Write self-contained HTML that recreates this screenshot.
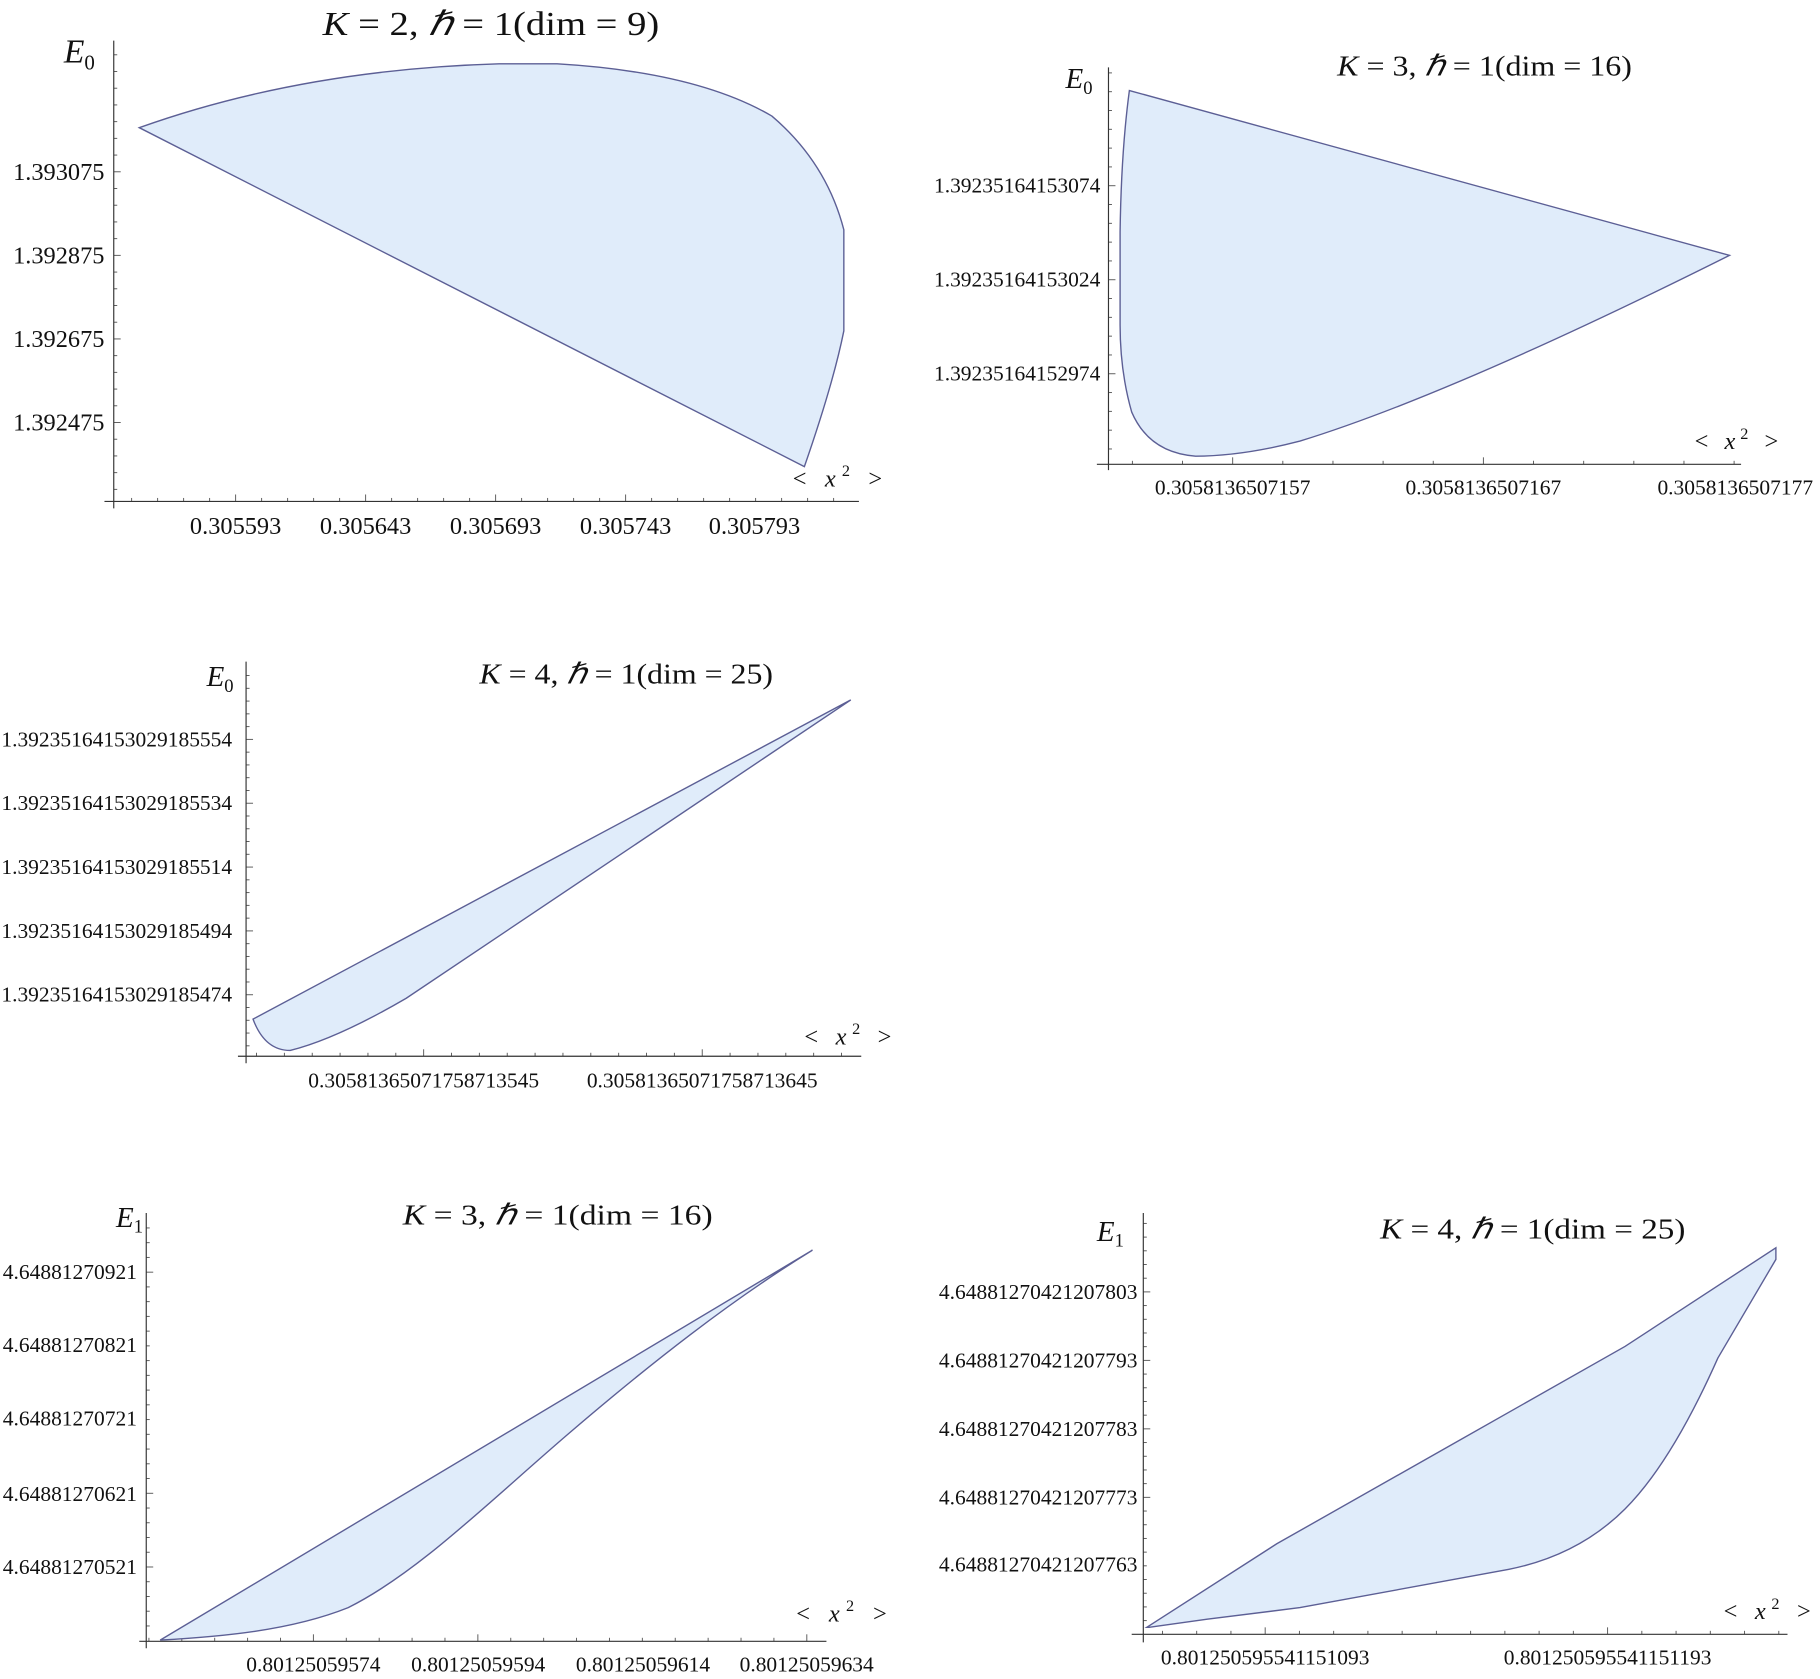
<!DOCTYPE html>
<html><head><meta charset="utf-8">
<style>
html,body{margin:0;padding:0;background:#fff;}
svg{display:block;}
text{font-family:"Liberation Serif",serif;fill:#111;}
.t{font-size:29px;}
.ts{font-size:25px;}
.l{font-size:21px;}
.ls{font-size:18.5px;}
.ax{stroke:#333;stroke-width:1;fill:none;}
.sh{fill:#e0ecfa;stroke:#5c5f95;stroke-width:1.2;}
</style></head><body>
<svg id="s" width="1820" height="1679" viewBox="0 0 1568 1446.5" preserveAspectRatio="none" xmlns="http://www.w3.org/2000/svg">
<g id="ticks"></g>
<!-- Panel 1 -->
<path class="sh" d="M120,110 Q260,60 430,55 L480,55 Q600,62 665,100 Q712,140 727,198 L727,285 Q718,330 693,402 L120,110 Z"/>
<line class="ax" x1="98" y1="35" x2="98" y2="438"/>
<line class="ax" x1="90" y1="432" x2="740" y2="432"/>
<text class="t" x="278" y="30" textLength="290" lengthAdjust="spacingAndGlyphs"><tspan font-style="italic">K</tspan> = 2, <tspan font-style="italic">ℏ</tspan> = 1(dim = 9)</text>
<text class="t" x="55" y="54" font-style="italic">E<tspan font-style="normal" font-size="18" dy="6">0</tspan></text>
<g class="l" text-anchor="end">
<text x="90" y="155">1.393075</text><text x="90" y="227">1.392875</text><text x="90" y="299">1.392675</text><text x="90" y="371">1.392475</text></g>
<g class="l" text-anchor="middle">
<text x="203" y="460">0.305593</text><text x="315" y="460">0.305643</text><text x="427" y="460">0.305693</text><text x="539" y="460">0.305743</text><text x="650" y="460">0.305793</text></g>
<text class="l" x="683" y="419" textLength="77" lengthAdjust="spacing">&lt; <tspan font-style="italic">x</tspan><tspan font-size="14" dy="-9">2</tspan><tspan dy="9"> &gt;</tspan></text>

<!-- Panel 2 -->
<path class="sh" d="M973,78 L1490,220 Q1250,340 1120,380 Q1070,393 1030,393 Q990,390 975,355 Q965,320 965,280 L965,200 Q966,130 973,78 Z"/>
<line class="ax" x1="955" y1="58" x2="955" y2="405"/>
<line class="ax" x1="945" y1="400" x2="1500" y2="400"/>
<text class="ts" x="1152" y="65" textLength="254" lengthAdjust="spacingAndGlyphs"><tspan font-style="italic">K</tspan> = 3, <tspan font-style="italic">ℏ</tspan> = 1(dim = 16)</text>
<text class="ts" x="918" y="76" font-style="italic">E<tspan font-style="normal" font-size="16" dy="5">0</tspan></text>
<g class="ls" text-anchor="end">
<text x="948" y="166">1.39235164153074</text><text x="948" y="247">1.39235164153024</text><text x="948" y="328">1.39235164152974</text></g>
<g class="ls" text-anchor="middle">
<text x="1062" y="426">0.3058136507157</text><text x="1278" y="426">0.3058136507167</text><text x="1495" y="426">0.3058136507177</text></g>
<text class="l" x="1460" y="387" textLength="72" lengthAdjust="spacing">&lt; <tspan font-style="italic">x</tspan><tspan font-size="14" dy="-9">2</tspan><tspan dy="9"> &gt;</tspan></text>

<!-- Panel 3 -->
<path class="sh" d="M218,878 L733,603 L350,860 Q290,895 250,905 Q228,905 218,878 Z"/>
<line class="ax" x1="212" y1="570" x2="212" y2="916"/>
<line class="ax" x1="205" y1="910" x2="742" y2="910"/>
<text class="ts" x="413" y="589" textLength="253" lengthAdjust="spacingAndGlyphs"><tspan font-style="italic">K</tspan> = 4, <tspan font-style="italic">ℏ</tspan> = 1(dim = 25)</text>
<text class="ts" x="178" y="591" font-style="italic">E<tspan font-style="normal" font-size="16" dy="5">0</tspan></text>
<g class="ls" text-anchor="end">
<text x="200" y="643">1.39235164153029185554</text><text x="200" y="698">1.39235164153029185534</text><text x="200" y="753">1.39235164153029185514</text><text x="200" y="808">1.39235164153029185494</text><text x="200" y="863">1.39235164153029185474</text></g>
<g class="ls" text-anchor="middle">
<text x="365" y="937">0.30581365071758713545</text><text x="605" y="937">0.30581365071758713645</text></g>
<text class="l" x="693" y="900" textLength="75" lengthAdjust="spacing">&lt; <tspan font-style="italic">x</tspan><tspan font-size="14" dy="-9">2</tspan><tspan dy="9"> &gt;</tspan></text>

<!-- Panel 4 -->
<path class="sh" d="M138,1413 L700,1077 C630,1120 560,1175 490,1235 C420,1295 360,1355 300,1385 C250,1405 190,1410 138,1413 Z"/>
<line class="ax" x1="126" y1="1045" x2="126" y2="1420"/>
<line class="ax" x1="120" y1="1414" x2="712" y2="1414"/>
<text class="ts" x="347" y="1055" textLength="267" lengthAdjust="spacingAndGlyphs"><tspan font-style="italic">K</tspan> = 3, <tspan font-style="italic">ℏ</tspan> = 1(dim = 16)</text>
<text class="ts" x="100" y="1057" font-style="italic">E<tspan font-style="normal" font-size="16" dy="5">1</tspan></text>
<g class="ls" text-anchor="end">
<text x="118" y="1102">4.64881270921</text><text x="118" y="1165">4.64881270821</text><text x="118" y="1228">4.64881270721</text><text x="118" y="1293">4.64881270621</text><text x="118" y="1356">4.64881270521</text></g>
<g class="ls" text-anchor="middle">
<text x="270" y="1440">0.80125059574</text><text x="412" y="1440">0.80125059594</text><text x="554" y="1440">0.80125059614</text><text x="695" y="1440">0.80125059634</text></g>
<text class="l" x="686" y="1397" textLength="78" lengthAdjust="spacing">&lt; <tspan font-style="italic">x</tspan><tspan font-size="14" dy="-9">2</tspan><tspan dy="9"> &gt;</tspan></text>

<!-- Panel 5 -->
<path class="sh" d="M988,1402 L1100,1330 L1250,1245 L1400,1160 L1530,1075 L1530,1085 L1480,1170 Q1440,1260 1400,1300 Q1360,1340 1300,1352 L1120,1385 L1040,1395 L990,1402 Z"/>
<line class="ax" x1="985" y1="1045" x2="985" y2="1415"/>
<line class="ax" x1="975" y1="1408" x2="1540" y2="1408"/>
<text class="ts" x="1189" y="1067" textLength="263" lengthAdjust="spacingAndGlyphs"><tspan font-style="italic">K</tspan> = 4, <tspan font-style="italic">ℏ</tspan> = 1(dim = 25)</text>
<text class="ts" x="945" y="1069" font-style="italic">E<tspan font-style="normal" font-size="16" dy="5">1</tspan></text>
<g class="ls" text-anchor="end">
<text x="980" y="1119">4.64881270421207803</text><text x="980" y="1178">4.64881270421207793</text><text x="980" y="1237">4.64881270421207783</text><text x="980" y="1296">4.64881270421207773</text><text x="980" y="1354">4.64881270421207763</text></g>
<g class="ls" text-anchor="middle">
<text x="1090" y="1434">0.801250595541151093</text><text x="1385" y="1434">0.801250595541151193</text></g>
<text class="l" x="1485" y="1395" textLength="75" lengthAdjust="spacing">&lt; <tspan font-style="italic">x</tspan><tspan font-size="14" dy="-9">2</tspan><tspan dy="9"> &gt;</tspan></text>
</svg>
<script>
(function(){
var g=document.getElementById('ticks'),o='';
function L(a,b,c,d){o+='<line x1="'+a+'" y1="'+b+'" x2="'+c+'" y2="'+d+'" stroke="#555" stroke-width="0.8"/>';}
function P(ax,ay,ymaj,ystep,ymin,ymax,xmaj,xstep,xmin,xmax){
 var y0=ymaj[0];for(var y=y0;y>ymin;y-=ystep/5);for(y+=ystep/5;y<ymax;y+=ystep/5){var m=ymaj.some(function(v){return Math.abs(v-y)<0.5;});L(ax,y,ax+(m?6:3),y);}
 var x0=xmaj[0];for(var x=x0;x>xmin;x-=xstep/5);for(x+=xstep/5;x<xmax;x+=xstep/5){var m2=xmaj.some(function(v){return Math.abs(v-x)<0.5;});L(x,ay,x,ay-(m2?6:3));}
}
P(98,432,[148,220,292,364],72,40,430,[203,315,427,539,650],112,100,738);
P(955,400,[160,241,322],81,60,398,[1062,1278,1495],216,957,1498);
P(212,910,[637,692,747,802,857],55,572,908,[365,605],120,214,740);
P(126,1414,[1096,1159,1222,1287,1350],63.5,1047,1412,[270,412,554,695],141.7,128,710);
P(985,1408,[1113,1172,1231,1290,1348],59,1047,1406,[1090,1385],147.5,987,1538);
g.innerHTML=o;
})();
</script>
</body></html>
